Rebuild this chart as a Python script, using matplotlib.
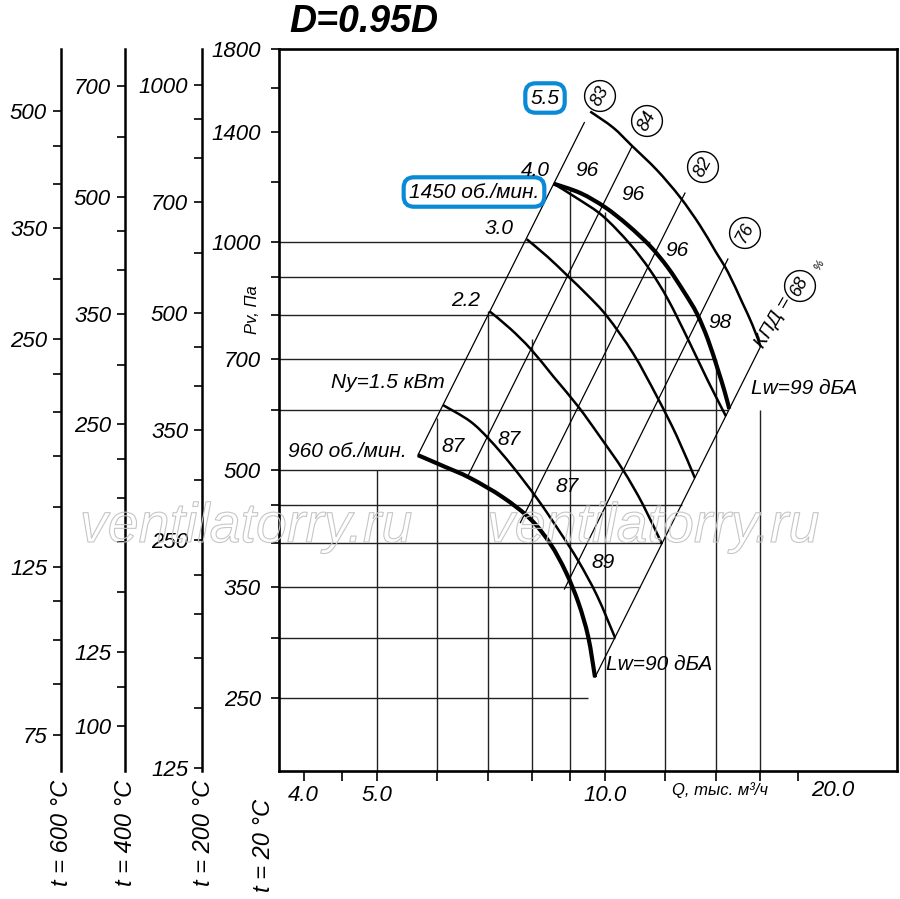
import matplotlib
matplotlib.use('Agg')
import matplotlib.pyplot as plt
import matplotlib.patheffects as pe
import numpy as np
from matplotlib.path import Path
from matplotlib.patches import PathPatch
from matplotlib.ticker import FixedLocator, FuncFormatter, NullLocator
from matplotlib.transforms import blended_transform_factory

plt.rcParams['font.family'] = ['Liberation Sans', 'DejaVu Sans']
plt.rcParams['font.style'] = 'italic'

# ----------- axes ---------------#
q_lim = (3.71, 24.3)
p_lim = (200, 1800)
q_ticks = [4.0, 4.5, 5, 6, 7, 8, 9, 10, 12, 14, 16, 18]
q_labeled = [4, 5, 10]
p_ticks = [1800, 1600, 1400, 1200, 1000, 900, 800, 700, 600, 500, 450, 400, 350, 300, 250]
p_labeled = [1800, 1400, 1000, 700, 500, 350, 250]

# pressure scales for hot gas
t600_ticks = [500, 450, 400, 350, 300, 250, 225, 200, 175, 150, 125, 112.5, 100, 87.5, 75]
t600_labeled = [500, 350, 250, 125, 75]
t400_ticks = [700, 600, 500, 450, 400, 350, 300, 250, 225, 200, 175, 150, 125, 112.5, 100]
t400_labeled = [700, 500, 350, 250, 125, 100]
t200_ticks = [1000, 900, 800, 700, 600, 500, 450, 400, 350, 300, 250, 225, 200, 175, 150, 125]
t200_labeled = [1000, 700, 500, 350, 250, 125]

# ----------- curves (Q, тыс. м3/ч ; P, Па) ---------------#
q960 = [5.66, 6.11, 6.63, 7.33, 7.98, 8.47, 8.87, 9.22, 9.50, 9.70]
p960 = [523, 506, 488, 460, 430, 399, 367, 334, 301, 266]
q1450 = [8.55, 9.28, 10.0, 10.72, 11.47, 12.11, 12.71, 13.22, 13.67, 14.09, 14.39, 14.59]
p1450 = [1195, 1161, 1112, 1053, 988, 925, 860, 805, 744, 679, 634, 602]
q15 = [6.11, 6.63, 7.04, 7.54, 8.15, 8.73, 9.22, 9.76, 10.31]
p15 = [609, 580, 548, 506, 457, 413, 379, 341, 300]
q22 = [7.04, 7.49, 7.98, 8.55, 9.22, 9.85, 10.56, 11.22, 11.89]
p22 = [810, 769, 722, 664, 606, 553, 500, 450, 399]
q30 = [7.88, 8.40, 8.92, 9.47, 10.06, 10.89, 11.71, 12.44, 13.14]
p30 = [1009, 956, 903, 852, 798, 713, 625, 554, 488]
q40 = [8.55, 9.22, 9.94, 10.79, 11.47, 12.11, 12.87, 13.67, 14.44]
p40 = [1195, 1140, 1082, 994, 918, 840, 744, 656, 589]
q55 = [9.56, 10.25, 10.85, 11.71, 12.56, 13.34, 13.96, 14.53, 15.18, 15.65, 16.05]
p55 = [1488, 1417, 1341, 1245, 1147, 1053, 976, 913, 832, 778, 728]

# efficiency rays (КПД)
ray_q0 = [5.66, 6.59, 7.73, 8.84, 9.70]
ray_p0 = [523, 491, 426, 348, 266]
ray_q1 = [9.39, 10.85, 12.75, 14.53, 16.05]
ray_p1 = [1439, 1337, 1161, 950, 728]
ray_eff = ['83', '84', '82', '76', '68']

# grid
h_p = [1000, 900, 800, 700, 600, 500, 450, 400, 350, 300, 250]
h_qend = [11.47, 12.18, 13.22, 13.87, 14.53, 13.30, 12.63, 11.89, 11.12, 10.31, 9.50]
v_q = [5, 6, 7, 8, 9, 10, 12, 14, 16]
v_ptop = [500, 586, 810, 744, 1171, 1095, 900, 700, 600]

W, H = 900, 899
fig = plt.figure(figsize=(9, 8.99), dpi=100)


def fx(x):
    return x / W


def fy(y):
    return 1 - y / H


def put(x, y, s, **kw):
    kw.setdefault('ha', 'center')
    kw.setdefault('va', 'center')
    kw.setdefault('fontsize', 15)
    return fig.text(fx(x), fy(y), s, **kw)


def smooth_curve(q, p):
    # bezier through the read points (in log space, like the axes)
    pts = np.column_stack([np.log10(q), np.log10(p)])
    n = len(pts)
    verts = [pts[0]]
    codes = [Path.MOVETO]
    for i in range(n - 1):
        a = pts[i - 1] if i > 0 else pts[i]
        b = pts[i]
        c = pts[i + 1]
        d = pts[i + 2] if i + 2 < n else pts[i + 1]
        verts += [b + (c - a) / 6, c - (d - b) / 6, c]
        codes += [Path.CURVE4] * 3
    return Path(10 ** np.array(verts), codes)


top, bot = 49, 771
ax = fig.add_axes([fx(279), fy(bot), (897 - 279) / W, (bot - top) / H])
ax.set_xscale('log')
ax.set_yscale('log')
ax.set_xlim(*q_lim)
ax.set_ylim(*p_lim)
for s in ax.spines.values():
    s.set_linewidth(1.9)

ax.yaxis.set_major_locator(FixedLocator(p_ticks))
ax.yaxis.set_minor_locator(NullLocator())
ax.yaxis.set_major_formatter(FuncFormatter(lambda v, _: str(int(v)) if int(v) in p_labeled else ''))
ax.tick_params(axis='y', direction='out', length=6, width=1.2, pad=7, labelsize=16)
ax.xaxis.set_major_locator(FixedLocator(q_ticks))
ax.xaxis.set_minor_locator(NullLocator())
ax.xaxis.set_major_formatter(FuncFormatter(lambda v, _: '%.1f' % v if v in q_labeled else ''))
ax.tick_params(axis='x', direction='out', length=7, width=1.2, pad=3, labelsize=16)
tr = blended_transform_factory(ax.transData, ax.transAxes)
ax.text(20, -0.0125, '20.0', transform=tr, ha='center', va='top', fontsize=16)

# grid lines
ax.hlines(h_p, q_lim[0], h_qend, color='#222222', lw=1.0, zorder=1)
ax.vlines(v_q, p_lim[0], v_ptop, color='#222222', lw=1.0, zorder=1)

# rays
for i in range(len(ray_q0)):
    ax.plot([ray_q0[i], ray_q1[i]], [ray_p0[i], ray_p1[i]], color='black', lw=0.9, zorder=2)

# curves
for q, p in [(q15, p15), (q22, p22), (q30, p30), (q40, p40), (q55, p55)]:
    ax.add_patch(PathPatch(smooth_curve(q, p), fill=False, ec='black', lw=1.8, zorder=3,
                           capstyle='butt'))
for q, p in [(q960, p960), (q1450, p1450)]:
    ax.add_patch(PathPatch(smooth_curve(q, p), fill=False, ec='black', lw=3.0, zorder=4,
                           capstyle='butt'))


# auxiliary pressure scales
def aux_scale(xpix, t, ticks, labeled):
    r = 293.0 / (273 + t)
    a = fig.add_axes([fx(xpix), fy(bot), 0.0001, (bot - top) / H])
    a.set_yscale('log')
    a.set_ylim(p_lim[0] * r, p_lim[1] * r)
    a.set_xticks([])
    for k in ['top', 'right', 'bottom']:
        a.spines[k].set_visible(False)
    a.spines['left'].set_linewidth(1.8)
    a.patch.set_visible(False)
    a.yaxis.set_major_locator(FixedLocator(ticks))
    a.yaxis.set_minor_locator(NullLocator())
    a.yaxis.set_major_formatter(FuncFormatter(lambda v, _: ('%g' % v) if v in labeled else ''))
    a.tick_params(axis='y', direction='out', length=6, width=1.2, pad=4, labelsize=16)
    return a


aux_scale(61, 600, t600_ticks, t600_labeled)
aux_scale(125, 400, t400_ticks, t400_labeled)
aux_scale(202, 200, t200_ticks, t200_labeled)

put(62, 833, 't = 600 °C', rotation=90, fontsize=17)
put(126, 833, 't = 400 °C', rotation=90, fontsize=17)
put(203, 833, 't = 200 °C', rotation=90, fontsize=17)
put(263, 845, 't = 20 °C', rotation=90, fontsize=17)
put(253, 310, 'Pv, Па', rotation=90, fontsize=12)
put(720, 790, 'Q, тыс. м³/ч', fontsize=12)

# title
put(364, 22, 'D=0.95D', fontsize=27, fontweight='bold')

# curve labels
blue = dict(boxstyle='round,pad=0.25,rounding_size=0.5', fc='white', ec='#0a8ad6', lw=3)
put(545, 98, '5.5', bbox=blue)
put(474, 192, '1450 об./мин.', bbox=blue)
put(535, 170, '4.0')
put(499, 229, '3.0')
put(466, 300, '2.2')
put(388, 383, 'Ny=1.5 кВт')
put(347, 452, '960 об./мин.')
put(587, 170, '96')
put(633, 195, '96')
put(677, 250, '96')
put(720, 323, '98')
put(453, 447, '87')
put(509, 440, '87')
put(567, 487, '87')
put(603, 563, '89')
put(804, 388, 'Lw=99 дБА')
put(659, 665, 'Lw=90 дБА')

circ = dict(boxstyle='circle,pad=0.3', fc='white', ec='black', lw=1)
for (x, y), s in zip([(600, 96), (647, 121), (703, 167), (745, 233), (800, 286)], ray_eff):
    put(x, y, s, rotation=62, fontsize=13, bbox=circ)
put(774, 322, 'КПД =', rotation=60, fontsize=14)
put(819, 265, '%', rotation=60, fontsize=8)

# watermark
wm = [pe.Stroke(linewidth=0.8, foreground='#c6c6c6')]
for x in [246, 653]:
    put(x, 528, 'ventilatorry.ru', fontsize=40, color='none', path_effects=wm, zorder=10)

fig.savefig('out.png', dpi=100)
